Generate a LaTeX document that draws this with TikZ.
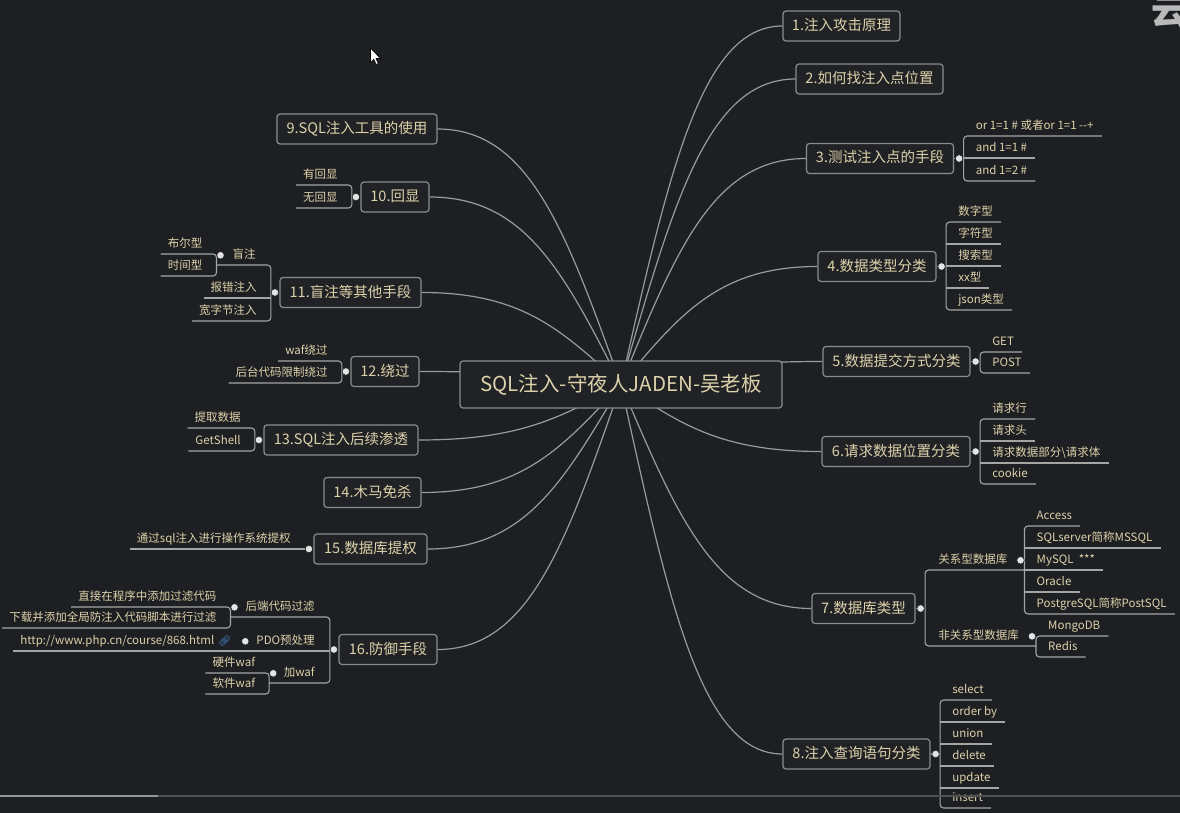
\documentclass[tikz,border=0pt]{standalone}
\usepackage{fontspec}
\setmainfont{Noto Sans CJK SC}
\newfontfamily\emo{Noto Emoji}
\usetikzlibrary{calc,backgrounds}
\definecolor{bgc}{RGB}{30,31,34}
\definecolor{nodef}{RGB}{33,34,37}
\definecolor{bordc}{RGB}{140,140,140}
\definecolor{linec}{RGB}{155,155,155}
\definecolor{subc}{RGB}{165,165,165}
\definecolor{txtc}{RGB}{220,210,170}
\definecolor{dotc}{RGB}{228,228,228}
\definecolor{linkc}{RGB}{80,140,235}
\definecolor{uic}{RGB}{80,80,80}
\definecolor{uihi}{RGB}{150,150,150}
\definecolor{cloudc}{RGB}{185,185,185}
\newcommand\mlink[1]{\draw[mline] let \p1=(root.center), \p2=(#1) in (\p1) .. controls ({\x1+0.3*(\x2-\x1)},{\y1+0.6*(\y2-\y1)}) and ({\x1+0.5*(\x2-\x1)},\y2) .. (\p2);}
\begin{document}
\begin{tikzpicture}[x=1pt,y=-1pt,
  topic/.style={draw=bordc, line width=1.2pt, rounded corners=3pt, fill=nodef, text=txtc, font=\fontsize{14.5}{17}\selectfont, minimum height=30pt, inner xsep=1pt, text height=12pt, text depth=3pt, anchor=center},
  root/.style={topic, font=\fontsize{20.5}{24}\selectfont, minimum height=47pt, minimum width=322pt, text height=17pt, text depth=3pt},
  leafb/.style={inner sep=0pt, minimum height=19pt, text height=9pt, text depth=3pt, font=\fontsize{11.5}{14}\selectfont, text=txtc},
  leafr/.style={leafb, anchor=south west, execute at begin node={\hspace*{12pt}}, execute at end node={\hspace*{8pt}}},
  leafl/.style={leafb, anchor=south east, execute at begin node={\hspace*{7pt}}, execute at end node={\hspace*{14pt}}},
  midr/.style={leafb, anchor=south west, execute at begin node={\hspace*{13pt}}, execute at end node={\hspace*{7pt}}},
  midl/.style={leafb, anchor=south east, execute at begin node={\hspace*{7pt}}, execute at end node={\hspace*{15pt}}},
  single/.style={leafb, anchor=south east, execute at begin node={\hspace*{7pt}}, execute at end node={\hspace*{18pt}}},
  mline/.style={draw=linec, line width=1.2pt},
  sline/.style={draw=subc, line width=1.1pt, rounded corners=3.5pt},
  knob/.style={circle, fill=dotc, draw=bgc, line width=0.6pt, inner sep=0pt, minimum size=7.5pt},
]
\useasboundingbox (0,0) rectangle (1180,813);
% ---------- main topics ----------
\node[root] (root) at (621,384.5) {SQL注入-守夜人JADEN-吴老板};
\node[topic, minimum width=117pt] (n1) at (841.5,26) {1.注入攻击原理};
\node[topic, minimum width=147pt] (n2) at (869.5,79) {2.如何找注入点位置};
\node[topic, minimum width=147pt] (n3) at (880,158.5) {3.测试注入点的手段};
\node[topic, minimum width=118pt] (n4) at (877,266.5) {4.数据类型分类};
\node[topic, minimum width=147pt] (n5) at (896.5,361.5) {5.数据提交方式分类};
\node[topic, minimum width=148pt] (n6) at (896,451.5) {6.请求数据位置分类};
\node[topic, minimum width=103pt] (n7) at (863.5,608.5) {7.数据库类型};
\node[topic, minimum width=147pt] (n8) at (856.5,754) {8.注入查询语句分类};
\node[topic, minimum width=160pt] (n9) at (357,129) {9.SQL注入工具的使用};
\node[topic, minimum width=68pt] (n10) at (395,197) {10.回显};
\node[topic, minimum width=141pt] (n11) at (350.5,292.5) {11.盲注等其他手段};
\node[topic, minimum width=68pt] (n12) at (385,371.5) {12.绕过};
\node[topic, minimum width=154pt] (n13) at (341,440) {13.SQL注入后续渗透};
\node[topic, minimum width=97pt] (n14) at (372.5,492.5) {14.木马免杀};
\node[topic, minimum width=113pt] (n15) at (370.5,549) {15.数据库提权};
\node[topic, minimum width=98pt] (n16) at (388,649.5) {16.防御手段};
% ---------- branch 3 ----------
\coordinate (b3) at ([xshift=9.5pt]n3.east);
\node[leafr] (c3a) at (b3 |- 0,136) {or 1=1 \# 或者or 1=1 -{}-+};
\node[leafr] (c3b) at (b3 |- 0,158) {and 1=1 \#};
\node[leafr] (c3c) at (b3 |- 0,181) {and 1=2 \#};
\draw[sline] (n3.east) -- (b3);
\draw[sline] (c3a.south east) -- (c3a.south west) -- (c3c.south west) -- (c3c.south east);
\draw[sline] (c3b.south west) -- (c3b.south east);
% ---------- branch 4 ----------
\coordinate (b4) at ([xshift=9.5pt]n4.east);
\node[leafr] (c4a) at (b4 |- 0,222) {数字型};
\node[leafr] (c4b) at (b4 |- 0,244) {字符型};
\node[leafr] (c4c) at (b4 |- 0,266) {搜索型};
\node[leafr] (c4d) at (b4 |- 0,288) {xx型};
\node[leafr] (c4e) at (b4 |- 0,310) {json类型};
\draw[sline] (n4.east) -- (b4);
\draw[sline] (c4a.south east) -- (c4a.south west) -- (c4e.south west) -- (c4e.south east);
\foreach \c in {c4b,c4c,c4d} \draw[sline] (\c.south west) -- (\c.south east);
% ---------- branch 5 ----------
\coordinate (b5) at ([xshift=9.5pt]n5.east);
\node[leafr] (c5a) at (b5 |- 0,352) {GET};
\node[leafr] (c5b) at (b5 |- 0,373) {POST};
\draw[sline] (n5.east) -- (b5);
\draw[sline] (c5a.south east) -- (c5a.south west) -- (c5b.south west) -- (c5b.south east);
% ---------- branch 6 ----------
\coordinate (b6) at ([xshift=9.5pt]n6.east);
\node[leafr] (c6a) at (b6 |- 0,419) {请求行};
\node[leafr] (c6b) at (b6 |- 0,441) {请求头};
\node[leafr] (c6c) at (b6 |- 0,463) {请求数据部分\textbackslash 请求体};
\node[leafr] (c6d) at (b6 |- 0,484) {cookie};
\draw[sline] (n6.east) -- (b6);
\draw[sline] (c6a.south east) -- (c6a.south west) -- (c6d.south west) -- (c6d.south east);
\foreach \c in {c6b,c6c} \draw[sline] (\c.south west) -- (\c.south east);
% ---------- branch 7 ----------
\coordinate (b7) at ([xshift=9.5pt]n7.east);
\node[midr] (m7a) at (b7 |- 0,570) {关系型数据库};
\node[midr] (m7b) at (b7 |- 0,646) {非关系型数据库};
\coordinate (b7a) at ([xshift=10pt]m7a.east);
\coordinate (b7b) at ([xshift=10pt]m7b.east);
\node[leafr] (c7a1) at (b7a |- 0,526) {Access};
\node[leafr] (c7a2) at (b7a |- 0,548) {SQLserver简称MSSQL};
\node[leafr] (c7a3) at (b7a |- 0,570) {MySQL\ \ ***};
\node[leafr] (c7a4) at (b7a |- 0,592) {Oracle};
\node[leafr] (c7a5) at (b7a |- 0,614) {PostgreSQL简称PostSQL};
\node[leafr] (c7b1) at (b7b |- 0,636) {MongoDB};
\node[leafr] (c7b2) at (b7b |- 0,657) {Redis};
\draw[sline] (n7.east) -- (b7);
\draw[sline] (b7a |- m7a.south) -- (m7a.south west) -- (m7b.south west) -- (b7b |- m7b.south);
\draw[sline] (c7a1.south east) -- (c7a1.south west) -- (c7a5.south west) -- (c7a5.south east);
\foreach \c in {c7a2,c7a3,c7a4} \draw[sline] (\c.south west) -- (\c.south east);
\draw[sline] (c7b1.south east) -- (c7b1.south west) -- (c7b2.south west) -- (c7b2.south east);
% ---------- branch 8 ----------
\coordinate (b8) at ([xshift=9.5pt]n8.east);
\node[leafr] (c8a) at (b8 |- 0,700) {select};
\node[leafr] (c8b) at (b8 |- 0,722) {order by};
\node[leafr] (c8c) at (b8 |- 0,744) {union};
\node[leafr] (c8d) at (b8 |- 0,766) {delete};
\node[leafr] (c8e) at (b8 |- 0,788) {update};
\node[leafr] (c8f) at (b8 |- 0,808) {insert};
\draw[sline] (n8.east) -- (b8);
\draw[sline] (c8a.south east) -- (c8a.south west) -- (c8f.south west) -- (c8f.south east);
\foreach \c in {c8b,c8c,c8d,c8e} \draw[sline] (\c.south west) -- (\c.south east);
% ---------- branch 10 ----------
\coordinate (b10) at ([xshift=-8.5pt]n10.west);
\node[leafl] (c10a) at (b10 |- 0,185) {有回显};
\node[leafl] (c10b) at (b10 |- 0,208) {无回显};
\draw[sline] (n10.west) -- (b10);
\draw[sline] (c10a.south west) -- (c10a.south east) -- (c10b.south east) -- (c10b.south west);
% ---------- branch 11 ----------
\coordinate (b11) at ([xshift=-8.5pt]n11.west);
\node[midl] (m11a) at (b11 |- 0,265) {盲注};
\coordinate (b11a) at ([xshift=-9pt]m11a.west);
\node[leafl] (c11a1) at (b11a |- 0,254) {布尔型};
\node[leafl] (c11a2) at (b11a |- 0,276) {时间型};
\node[leafl] (c11b) at (b11 |- 0,298) {报错注入};
\node[leafl] (c11c) at (b11 |- 0,321) {宽字节注入};
\draw[sline] (n11.west) -- (b11);
\draw[sline] (b11a |- m11a.south) -- (m11a.south east) -- (c11c.south east) -- (c11c.south west);
\draw[sline] (c11b.south west) -- (c11b.south east);
\draw[sline] (c11a1.south west) -- (c11a1.south east) -- (c11a2.south east) -- (c11a2.south west);
% ---------- branch 12 ----------
\coordinate (b12) at ([xshift=-8.5pt]n12.west);
\node[leafl] (c12a) at (b12 |- 0,361) {waf绕过};
\node[leafl] (c12b) at (b12 |- 0,383) {后台代码限制绕过};
\draw[sline] (n12.west) -- (b12);
\draw[sline] (c12a.south west) -- (c12a.south east) -- (c12b.south east) -- (c12b.south west);
% ---------- branch 13 ----------
\coordinate (b13) at ([xshift=-8.5pt]n13.west);
\node[leafl] (c13a) at (b13 |- 0,428) {提取数据};
\node[leafl] (c13b) at (b13 |- 0,451) {GetShell};
\draw[sline] (n13.west) -- (b13);
\draw[sline] (c13a.south west) -- (c13a.south east) -- (c13b.south east) -- (c13b.south west);
% ---------- branch 15 ----------
\coordinate (b15) at ([xshift=-4.5pt]n15.west);
\node[single] (c15) at (b15) {通过sql注入进行操作系统提权};
\draw[sline] (c15.south west) -- (c15.south east) -- (n15.west);
% ---------- branch 16 ----------
\coordinate (b16) at ([xshift=-8.5pt]n16.west);
\node[midl] (m16a) at (b16 |- 0,617) {后端代码过滤};
\node[midl] (m16b) at (b16 |- 0,651) {PDO预处理};
\node[midl] (m16c) at (b16 |- 0,683) {加waf};
\coordinate (b16a) at ([xshift=-8pt]m16a.west);
\coordinate (k16b) at ([xshift=-4pt]m16b.west);
\coordinate (b16c) at ([xshift=-7.5pt]m16c.west);
\node[leafl] (c16a1) at (b16a |- 0,607) {直接在程序中添加过滤代码};
\node[leafl] (c16a2) at (b16a |- 0,628) {下载并添加全局防注入代码脚本进行过滤};
\node[leafl] (c16b1) at (k16b |- m16b.south) {http://www.php.cn/course/868.html\hspace{4pt}{\emo\fontsize{10}{12}\selectfont\textcolor{linkc}{🔗}}};
\node[leafl] (c16c1) at (b16c |- 0,673) {硬件waf};
\node[leafl] (c16c2) at (b16c |- 0,694) {软件waf};
\draw[sline] (n16.west) -- (b16);
\draw[sline] (b16a |- m16a.south) -- (m16a.south east) -- (m16c.south east) -- (b16c |- m16c.south);
\draw[sline] (c16b1.south west) -- (m16b.south east);
\draw[sline] (c16a1.south west) -- (c16a1.south east) -- (c16a2.south east) -- (c16a2.south west);
\draw[sline] (c16c1.south west) -- (c16c1.south east) -- (c16c2.south east) -- (c16c2.south west);
% ---------- main connectors ----------
\begin{scope}[on background layer]
\fill[bgc] (0,0) rectangle (1180,813);
\mlink{n1.west}\mlink{n2.west}\mlink{n3.west}\mlink{n4.west}
\mlink{n5.west}\mlink{n6.west}\mlink{n7.west}\mlink{n8.west}
\mlink{n9.east}\mlink{n10.east}\mlink{n11.east}\mlink{n12.east}
\mlink{n13.east}\mlink{n14.east}\mlink{n15.east}\mlink{n16.east}
\end{scope}
% ---------- knobs ----------
\node[knob] (k3) at ([xshift=5pt]n3.east) {};
\node[knob] (k4) at ([xshift=5pt]n4.east) {};
\node[knob] (k5) at ([xshift=5pt]n5.east) {};
\node[knob] (k6) at ([xshift=5pt]n6.east) {};
\node[knob] (k7) at ([xshift=5pt]n7.east) {};
\node[knob] (k7a) at ([xshift=6pt]m7a.east) {};
\node[knob] (k7b) at ([xshift=6pt]m7b.east) {};
\node[knob] (k8) at ([xshift=5pt]n8.east) {};
\node[knob] (k10) at ([xshift=-4.5pt]n10.west) {};
\node[knob] (k11) at ([xshift=-4.5pt]n11.west) {};
\node[knob] (k11a) at ([xshift=-5pt]m11a.west) {};
\node[knob] (k12) at ([xshift=-4.5pt]n12.west) {};
\node[knob] (k13) at ([xshift=-4.5pt]n13.west) {};
\node[knob] (k15) at (b15) {};
\node[knob] (k16) at ([xshift=-4.5pt]n16.west) {};
\node[knob] (k16a) at ([xshift=-4pt]m16a.west) {};
\node[knob] (k16bb) at (k16b) {};
\node[knob] (k16c) at ([xshift=-3.5pt]m16c.west) {};
% ---------- screen details ----------
\node[anchor=west, inner sep=0pt, text=cloudc, font=\fontsize{36}{40}\selectfont\bfseries] (cloud) at (1151,12.5) {云};
\filldraw[fill=white, draw=black, line width=0.6pt] (370.5,48) -- (370.5,62.5) -- (373.8,59.3) -- (376.2,64.5) -- (378.3,63.6) -- (376,58.5) -- (380.5,58.5) -- cycle;
\draw[uic, line width=1.5pt] (0,796) -- (1180,796);
\draw[uihi, line width=1.5pt] (0,796) -- (158,796);
\end{tikzpicture}
\end{document}
